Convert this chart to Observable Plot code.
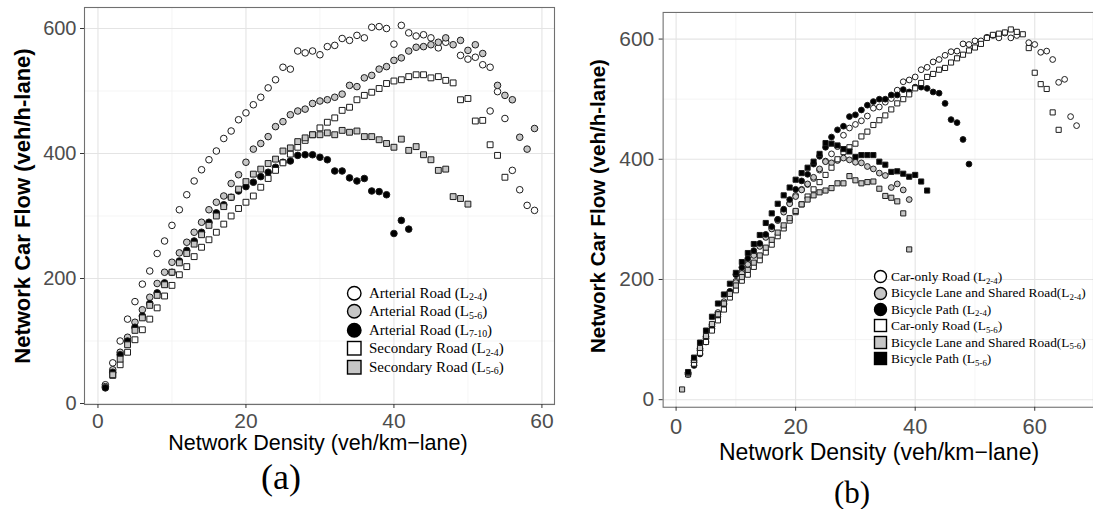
<!DOCTYPE html>
<html><head><meta charset="utf-8">
<script src="https://cdn.jsdelivr.net/npm/d3@7"></script>
<script src="https://cdn.jsdelivr.net/npm/@observablehq/plot@0.6"></script>
<style>
html,body{margin:0;padding:0;background:#fff;overflow:hidden;width:1093px;height:509px;}
#root{position:relative;width:1093px;height:509px;overflow:hidden;font-family:"Liberation Sans",Arial,sans-serif;}
.panel{position:absolute;top:0;}
.title{position:absolute;white-space:nowrap;color:#000;line-height:1;}
.ytitle{font-weight:bold;transform:translate(-50%,-50%) rotate(-90deg);}
.xtitle{transform:translate(-50%,0);line-height:0.9;}
.tag{position:absolute;font-family:"Liberation Serif","Times New Roman",serif;transform:translate(-50%,0);line-height:0.95;color:#000;}
.lrow{position:absolute;white-space:nowrap;font-family:"Liberation Serif","Times New Roman",serif;color:#000;line-height:1;}
.lrow .s{font-size:0.66em;position:relative;top:0.3em;}
.lsym{position:absolute;overflow:visible;}
</style>
</head><body><div id="root"></div>
<script>
// ---------------- Panel (a) data: [density, flow] ----------------
const aArterial24 = [[1,30],[2,65],[3,100],[4,135],[5,163],[6,191],[7,212],[8,240],[9,260],[10,285],[11,310],[12,334],[13,356],[14,374],[15,390],[16,404],[17,424],[18,436],[19,454],[20,465],[21,478],[22,490],[23,505],[24,518],[25,538],[26,535],[27,564],[28,561],[29,564],[30,558],[31,571],[32,573],[33,584],[34,581],[35,589],[36,585],[37,602],[38,603],[39,600],[40,575],[41,605],[42,593],[43,588],[44,590],[45,585],[46,569],[47,578],[49,557],[50,551],[51,554],[52,542],[53,538],[53,468],[54,499],[55,456],[56,373],[57,342],[58,317],[59,309]];
const aArterial56 = [[1,27],[2,54],[3,82],[4,106],[5,130],[6,150],[7,170],[8,192],[9,210],[10,226],[11,241],[12,258],[13,274],[14,290],[15,310],[16,322],[17,332],[18,352],[19,366],[20,386],[21,407],[22,416],[23,427],[24,443],[25,451],[26,462],[27,468],[28,471],[29,480],[30,484],[31,486],[32,490],[33,495],[34,509],[35,507],[36,521],[37,525],[38,535],[39,539],[40,549],[41,553],[42,564],[43,570],[44,571],[45,574],[46,578],[47,585],[48,574],[49,581],[50,565],[51,574],[52,560],[54,509],[55,493],[56,486],[57,426],[58,407],[59,440]];
const aArterial710 = [[1,25],[2,50],[3,78],[4,100],[5,122],[6,140],[7,160],[8,177],[9,193],[10,210],[11,228],[12,245],[13,260],[14,274],[15,290],[16,305],[17,318],[18,330],[19,340],[20,347],[21,354],[22,363],[23,370],[24,378],[25,386],[26,388],[27,397],[28,398],[29,398],[30,394],[31,390],[32,372],[33,372],[34,361],[35,356],[36,360],[37,340],[38,339],[39,334],[40,272],[41,293],[42,279]];
const aSecondary24 = [[2,45],[3,62],[4,82],[5,102],[6,118],[7,135],[8,153],[9,172],[10,189],[11,206],[12,219],[13,235],[14,250],[15,262],[16,274],[17,287],[18,300],[19,312],[20,322],[21,332],[22,346],[23,360],[24,373],[25,385],[26,399],[27,410],[28,421],[29,430],[30,441],[31,450],[32,457],[33,469],[34,474],[35,486],[36,493],[37,498],[38,504],[39,512],[40,516],[41,518],[42,523],[43,526],[44,526],[45,521],[46,523],[47,517],[48,513],[49,486],[50,488],[51,452],[52,453],[53,414],[54,397],[55,362]];
const aSecondary56 = [[2,46],[3,71],[4,94],[5,117],[6,137],[7,157],[8,173],[9,190],[10,210],[11,225],[12,240],[13,255],[14,270],[15,285],[16,300],[17,315],[18,330],[19,343],[20,355],[21,367],[22,375],[23,384],[24,391],[25,404],[26,409],[27,419],[28,425],[29,430],[30,430],[31,433],[32,430],[33,437],[34,434],[35,436],[36,427],[37,427],[38,422],[39,416],[40,410],[41,423],[42,405],[43,411],[44,398],[45,390],[46,373],[47,375],[48,331],[49,328],[50,319]];

// ---------------- Panel (b) data: [density, flow] ----------------
const bCarOnly24 = [[2,45],[3,65],[4,85],[5,105],[6,125],[7,145],[8,163],[9,180],[10,197],[11,213],[12,228],[13,243],[14,257],[15,272],[16,286],[17,300],[18,314],[19,327],[20,340],[21,350],[22,358],[23,368],[24,382],[25,397],[26,409],[27,421],[28,440],[29,452],[30,458],[31,464],[32,472],[33,485],[34,487],[35,495],[36,501],[37,515],[38,529],[39,532],[40,537],[41,549],[42,553],[43,562],[44,566],[45,573],[46,579],[47,580],[48,592],[49,591],[50,597],[51,597],[52,603],[53,606],[54,602],[55,610],[56,602],[57,606],[59,594],[60,591],[61,578],[62,580],[63,566],[64,528],[65,533],[66,471],[67,456]];
const bBikeLane24 = [[2,44],[3,62],[4,82],[5,102],[6,122],[7,142],[8,160],[9,178],[10,195],[11,210],[12,225],[13,240],[14,255],[15,270],[16,284],[17,298],[18,312],[19,326],[20,338],[21,349],[22,359],[23,370],[24,384],[25,396],[26,394],[27,398],[28,402],[29,399],[30,395],[31,394],[32,388],[33,384],[34,377],[35,373],[36,353],[37,359],[38,349],[39,333]];
const bBikePath24 = [[2,42],[3,57],[4,76],[5,96],[6,118],[7,138],[8,158],[9,180],[10,208],[11,220],[12,235],[13,248],[14,260],[15,275],[16,288],[17,300],[18,317],[19,333],[20,350],[21,364],[22,375],[23,392],[24,405],[25,420],[26,437],[27,449],[28,455],[29,471],[30,474],[31,482],[32,490],[33,496],[34,500],[35,500],[36,507],[37,507],[38,516],[39,512],[40,520],[41,520],[42,518],[43,512],[44,510],[45,493],[46,466],[47,461],[48,433],[49,392]];
const bCarOnly56 = [[2,42],[3,60],[4,78],[5,96],[6,115],[7,132],[8,150],[9,170],[10,182],[11,198],[12,208],[13,221],[14,232],[15,245],[16,258],[17,272],[18,285],[19,298],[20,312],[21,325],[22,338],[23,350],[24,362],[25,374],[26,386],[27,400],[28,412],[29,420],[30,426],[31,438],[32,446],[33,457],[34,465],[35,473],[36,483],[37,493],[38,500],[39,508],[40,518],[41,527],[42,537],[43,542],[44,549],[45,552],[46,561],[47,568],[48,574],[49,581],[50,586],[51,592],[52,602],[53,607],[54,609],[55,611],[56,616],[57,612],[58,608],[59,585],[60,544],[61,525],[62,517],[63,478],[64,449]];
const bBikeLane56 = [[1,17],[2,44],[3,66],[4,86],[5,106],[6,126],[7,142],[8,160],[9,176],[10,190],[11,204],[12,216],[13,228],[14,240],[15,253],[16,266],[17,278],[18,290],[19,302],[20,314],[21,325],[22,333],[23,340],[24,345],[25,348],[26,352],[27,360],[28,360],[29,372],[30,365],[31,360],[32,362],[33,363],[34,351],[35,339],[36,336],[37,330],[38,310],[39,250]];
const bBikePath56 = [[2,46],[3,70],[4,95],[5,115],[6,138],[7,160],[8,175],[9,193],[10,211],[11,229],[12,244],[13,259],[14,274],[15,294],[16,310],[17,326],[18,340],[19,353],[20,366],[21,377],[22,386],[23,396],[24,409],[25,427],[26,426],[27,423],[28,417],[29,413],[30,404],[31,407],[32,407],[33,407],[34,396],[35,391],[36,379],[37,380],[38,376],[39,371],[40,374],[41,363],[42,348]];

// ---------------- ticks and labels ----------------
const xTicks = [0, 20, 40, 60];
const xMinor = [10, 30, 50];
const yTicks = [0, 200, 400, 600];
const yMinor = [100, 300, 500];
const xTitle = "Network Density (veh/km\u2212lane)";
const yTitle = "Network Car Flow (veh/h-lane)";
const legendA = [
  {base: "Arterial Road (L", sub: "2-4", tail: ")", symbol: "circle", fill: "#ffffff"},
  {base: "Arterial Road (L", sub: "5-6", tail: ")", symbol: "circle", fill: "#c6c6c6"},
  {base: "Arterial Road (L", sub: "7-10", tail: ")", symbol: "circle", fill: "#000000"},
  {base: "Secondary Road (L", sub: "2-4", tail: ")", symbol: "square", fill: "#ffffff"},
  {base: "Secondary Road (L", sub: "5-6", tail: ")", symbol: "square", fill: "#c6c6c6"}
];
const legendB = [
  {base: "Car-only Road (L", sub: "2-4", tail: ")", symbol: "circle", fill: "#ffffff"},
  {base: "Bicycle Lane and Shared Road(L", sub: "2-4", tail: ")", symbol: "circle", fill: "#c6c6c6"},
  {base: "Bicycle Path (L", sub: "2-4", tail: ")", symbol: "circle", fill: "#000000"},
  {base: "Car-only Road (L", sub: "5-6", tail: ")", symbol: "square", fill: "#ffffff"},
  {base: "Bicycle Lane and Shared Road(L", sub: "5-6", tail: ")", symbol: "square", fill: "#c6c6c6"},
  {base: "Bicycle Path (L", sub: "5-6", tail: ")", symbol: "square", fill: "#000000"}
];
const seriesA = [aArterial24, aArterial56, aArterial710, aSecondary24, aSecondary56];
const seriesB = [bCarOnly24, bBikeLane24, bBikePath24, bCarOnly56, bBikeLane56, bBikePath56];

const root = document.getElementById("root");

function makePanel(cfg) {
  const marks = [
    Plot.gridX(xMinor, {stroke: "#f0f0f0", strokeOpacity: 1, strokeWidth: 0.7}),
    Plot.gridY(yMinor, {stroke: "#f0f0f0", strokeOpacity: 1, strokeWidth: 0.7}),
    Plot.gridX(xTicks, {stroke: "#e4e4e4", strokeOpacity: 1, strokeWidth: 1.1}),
    Plot.gridY(yTicks, {stroke: "#e4e4e4", strokeOpacity: 1, strokeWidth: 1.1})
  ];
  cfg.series.forEach((data, i) => {
    const lg = cfg.legend[i];
    marks.push(Plot.dot(data, {x: d => d[0], y: d => d[1], symbol: lg.symbol, fill: lg.fill,
      stroke: "#1c1c1c", strokeWidth: 1, r: cfg.r}));
  });
  marks.push(Plot.frame({stroke: "#707070", strokeWidth: 1.1}));
  marks.push(Plot.axisX(xTicks, {tickSize: 4, tickPadding: cfg.xPad, fontSize: cfg.xFont, fill: "#4d4d4d", stroke: "#333", label: null}));
  marks.push(Plot.axisY(yTicks, {tickSize: 4, tickPadding: cfg.yPad, fontSize: cfg.yFont, fill: "#4d4d4d", stroke: "#333", label: null}));
  const svg = Plot.plot({
    width: cfg.width, height: cfg.height,
    marginLeft: cfg.ml, marginRight: cfg.mr, marginTop: cfg.mt, marginBottom: cfg.mb,
    style: {fontFamily: '"Liberation Sans", Arial, sans-serif', background: "transparent", overflow: "visible"},
    x: {domain: cfg.xDomain},
    y: {domain: cfg.yDomain},
    marks
  });
  const wrap = document.createElement("div");
  wrap.className = "panel";
  wrap.style.left = cfg.left + "px";
  wrap.appendChild(svg);
  root.appendChild(wrap);
}

function addText(cls, txt, css) {
  const d = document.createElement("div");
  d.className = cls;
  d.textContent = txt;
  Object.assign(d.style, css);
  root.appendChild(d);
}

function addLegend(items, o) {
  items.forEach((it, i) => {
    const cy = o.top + i * o.gap;
    const s = o.size;
    const svg = d3.select(root).append("svg").attr("class", "lsym")
      .style("left", (o.symX - s / 2 - 2) + "px").style("top", (cy - s / 2 - 2) + "px")
      .attr("width", s + 4).attr("height", s + 4);
    if (it.symbol === "circle") {
      svg.append("circle").attr("cx", s / 2 + 2).attr("cy", s / 2 + 2).attr("r", s / 2 - 0.5)
        .attr("fill", it.fill).attr("stroke", "#000").attr("stroke-width", 1.4);
    } else {
      svg.append("rect").attr("x", 2.5).attr("y", 2.5).attr("width", s - 1).attr("height", s - 1)
        .attr("fill", it.fill).attr("stroke", "#000").attr("stroke-width", 1.4);
    }
    const row = document.createElement("div");
    row.className = "lrow";
    row.style.left = o.textX + "px";
    row.style.top = (cy - o.font * 0.5) + "px";
    row.style.fontSize = o.font + "px";
    row.appendChild(document.createTextNode(it.base));
    const sub = document.createElement("span");
    sub.className = "s";
    sub.textContent = it.sub;
    row.appendChild(sub);
    row.appendChild(document.createTextNode(it.tail));
    root.appendChild(row);
  });
}

// Panel (a)
makePanel({left: 0, width: 560, height: 445, ml: 84, mr: 6, mt: 7, mb: 41,
  xDomain: [-1.82, 61.7], yDomain: [-1.6, 633.6], series: seriesA, legend: legendA, r: 3.3,
  xFont: 21, yFont: 20, xPad: 5, yPad: 4});
// Panel (b)
makePanel({left: 565, width: 530, height: 450, ml: 98, mr: 0, mt: 12, mb: 41.7,
  xDomain: [-2.17, 69.83], yDomain: [-12.6, 644.3], series: seriesB, legend: legendB, r: 2.9,
  xFont: 22, yFont: 21, xPad: 7, yPad: 5});

addText("title ytitle", yTitle, {left: "22.5px", top: "206px", fontSize: "22px"});
addText("title xtitle", xTitle, {left: "318px", top: "434px", fontSize: "21.5px"});
addText("title ytitle", yTitle, {left: "598px", top: "206px", fontSize: "20.5px"});
addText("title xtitle", xTitle, {left: "879px", top: "442px", fontSize: "23px"});
addText("tag", "(a)", {left: "281px", top: "460px", fontSize: "36px"});
addText("tag", "(b)", {left: "852px", top: "478px", fontSize: "31px"});

addLegend(legendA, {top: 293, gap: 18.5, symX: 354, size: 14.5, textX: 369, font: 15});
addLegend(legendB, {top: 276.7, gap: 16.4, symX: 880, size: 13, textX: 891, font: 13.4});
</script>
</body></html>
